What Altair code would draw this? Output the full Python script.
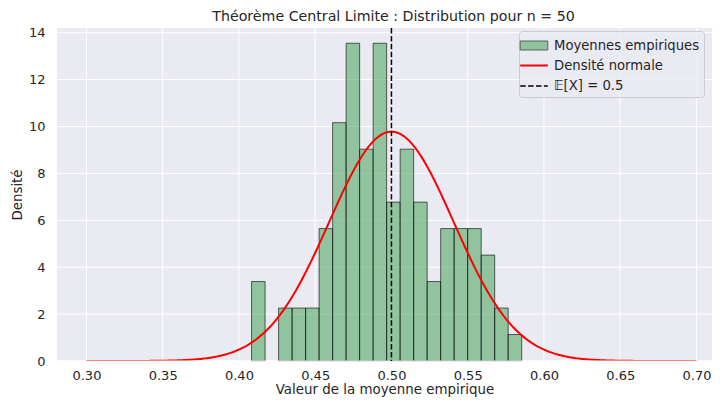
import altair as alt
import pandas as pd

# ---- data ----
bin_start = 0.4083          # left edge of the first histogram bin
bin_width = 0.008856        # width of each bin
n_samples = 100             # number of empirical means
counts = [3, 0, 2, 2, 2, 5, 9, 12, 8, 12, 6, 8, 6, 3, 5, 5, 5, 4, 2, 1]
mu = 0.5                    # mean of the normal curve / E[X]
sigma = 0.0408              # std of the normal curve
curve_min, curve_max = 0.30, 0.70
x_ticks = [0.30, 0.35, 0.40, 0.45, 0.50, 0.55, 0.60, 0.65, 0.70]
y_ticks = [0, 2, 4, 6, 8, 10, 12, 14]
labels = ["Moyennes empiriques", "Densité normale", "𝔼[X] = 0.5"]

GREEN = "#55a868"
RED = "#ff0000"
BLACK = "#000000"
BG = "#eaeaf2"

lefts = [bin_start + i * bin_width for i in range(len(counts))]
hist_df = pd.DataFrame({
    "left": lefts,
    "right": [l + bin_width for l in lefts],
    "density": [c / (n_samples * bin_width) for c in counts],
    "count": counts,
})
hist_df = hist_df[hist_df["count"] > 0]
legend_df = pd.DataFrame({"label": labels})
xgrid_df = pd.DataFrame({"t": x_ticks})
ygrid_df = pd.DataFrame({"t": y_ticks})

FONT = "DejaVu Sans"
TXT = "#262626"
W, H = 655, 333

xscale = alt.Scale(domain=[0.2807, 0.7102], nice=False, zero=False)
yscale = alt.Scale(domain=[0, 14.2], nice=False)

xaxis = alt.Axis(values=x_ticks, format=".2f", title="Valeur de la moyenne empirique",
                 labelPadding=8, titlePadding=0)
yaxis = alt.Axis(values=y_ticks, title="Densité", labelPadding=12, titlePadding=4)

rect_path = "M-1.38,-0.45H1.38V0.45H-1.38Z"
line_path = "M-1.38,0H1.38"
legend = alt.Legend(
    title=None, orient="none", legendX=462, legendY=3,
    fillColor="rgba(234,234,242,0.8)", strokeColor="#cccccc", cornerRadius=3,
    padding=4, labelFont=FONT, labelFontSize=13.2, labelColor=TXT,
    symbolSize=400, labelOffset=9, rowPadding=2.5, symbolOpacity=1,
)

view_bg = alt.Chart(pd.DataFrame({"v": [0]})).mark_rect(fill=BG).encode(
    x=alt.value(0), x2=alt.value(W), y=alt.value(0), y2=alt.value(H)
)

xgrid = alt.Chart(xgrid_df).mark_rule(color="white", strokeWidth=1).encode(
    x=alt.X("t:Q", scale=xscale)
)
ygrid = alt.Chart(ygrid_df).mark_rule(color="white", strokeWidth=1).encode(
    y=alt.Y("t:Q", scale=yscale)
)

bars = alt.Chart(hist_df).mark_bar(
    fill=GREEN, fillOpacity=0.6, stroke=BLACK, strokeOpacity=0.6, strokeWidth=1
).encode(
    x=alt.X("left:Q", scale=xscale, axis=xaxis),
    x2="right:Q",
    y=alt.Y("density:Q", scale=yscale, axis=yaxis),
    y2=alt.datum(0),
)

curve = alt.Chart(alt.sequence(curve_min, curve_max + 0.0005, 0.001, as_="x")).transform_calculate(
    y=f"densityNormal(datum.x, {mu}, {sigma})"
).mark_line(stroke=RED, strokeWidth=2, clip=True).encode(
    x=alt.X("x:Q", scale=xscale),
    y=alt.Y("y:Q", scale=yscale),
)

spine = alt.Chart(pd.DataFrame({"y": [0]})).mark_rule(color="white", strokeWidth=1.25).encode(
    y=alt.Y("y:Q", scale=yscale)
)

mean_rule = alt.Chart(pd.DataFrame({"m": [mu]})).mark_rule(
    stroke=BLACK, strokeDash=[5.5, 2.4], strokeWidth=1.5
).encode(
    x=alt.X("m:Q", scale=xscale),
)

legend_layer = alt.Chart(legend_df).mark_point(size=400, opacity=0).encode(
    fill=alt.Fill("label:N", scale=alt.Scale(domain=labels, range=["#91c29f", "transparent", "transparent"]), legend=legend),
    stroke=alt.Stroke("label:N", scale=alt.Scale(domain=labels, range=["#4d5a50", RED, BLACK]), legend=legend),
    shape=alt.Shape("label:N", scale=alt.Scale(domain=labels, range=[rect_path, line_path, line_path]), legend=legend),
    strokeDash=alt.StrokeDash("label:N", scale=alt.Scale(domain=labels, range=[[1, 0], [1, 0], [5.5, 2.4]]), legend=legend),
    strokeWidth=alt.StrokeWidth("label:N", scale=alt.Scale(type="ordinal", domain=labels, range=[1, 2, 1.5]), legend=legend),
)

chart = alt.layer(view_bg, xgrid, ygrid, bars, curve, spine, mean_rule, legend_layer).properties(
    width=W, height=H,
    autosize=alt.AutoSizeParams(type="none"),
    padding={"left": 49, "top": 20, "right": 0, "bottom": 36},
    title=alt.TitleParams(
        "Théorème Central Limite : Distribution pour n = 50",
        font=FONT, fontSize=14.2, fontWeight="normal", color=TXT,
        offset=2, dx=9, anchor="middle",
    ),
).configure(background="white").configure_view(
    stroke="transparent"
).configure_axis(
    grid=False, domain=False, ticks=False,
    labelFont=FONT, labelFontSize=13, labelColor=TXT,
    titleFont=FONT, titleFontSize=13.4, titleFontWeight="normal", titleColor=TXT,
)

chart.save("out.html", embed_options={"renderer": "svg", "actions": False})
